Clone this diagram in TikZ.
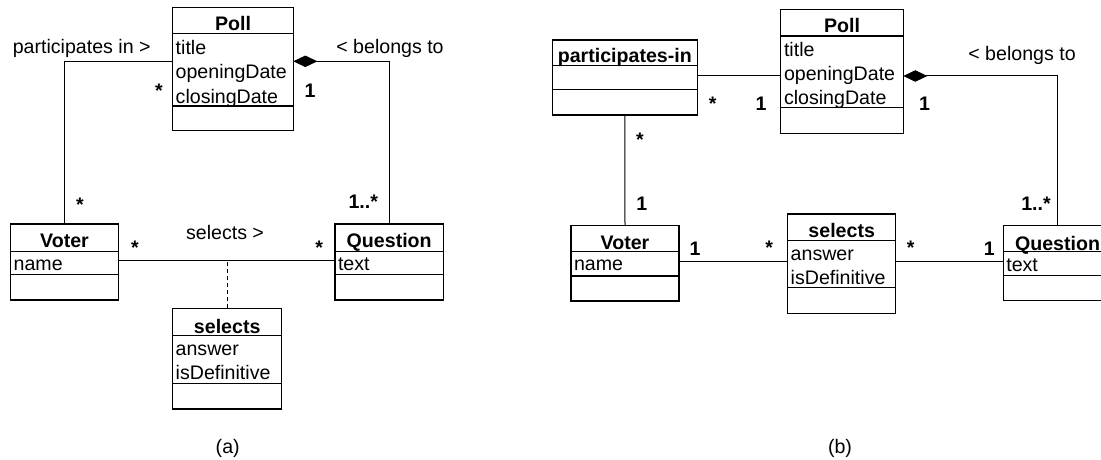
\documentclass[tikz,border=0pt]{standalone}
\usepackage{fontspec}
\setmainfont{Liberation Sans}
\usetikzlibrary{arrows.meta}
\newcommand{\umlclass}[7]{% name, left, top, right, bottom, sep1, sep2
  \node[classbox, minimum width={(#4-#2)*1pt}, minimum height={(#5-#3)*1pt}] (#1) at ({(#2+#4)/2},{(#3+#5)/2}) {};
  \draw[sepline] (#2,#6) -- (#4,#6);
  \draw[sepline] (#2,#7) -- (#4,#7);
}
\begin{document}
\begin{tikzpicture}[x=1pt,y=-1pt,
  every node/.style={font=\fontsize{19.6}{23}\selectfont, inner sep=0pt, outer sep=0pt},
  classbox/.style={draw, line width=1.1pt, rectangle, inner sep=0pt, outer sep=0pt},
  hdr/.style={anchor=base, font=\fontsize{19.6}{23}\selectfont\bfseries},
  attr/.style={anchor=base west},
  mult/.style={anchor=base, font=\fontsize{19.6}{23}\selectfont\bfseries},
  lbl/.style={anchor=base},
  conn/.style={line width=1pt},
  sepline/.style={line width=1.1pt},
  comp/.style={{Diamond[length=24pt,width=11.5pt]}-},
  assocdash/.style={line width=1.4pt, dash pattern=on 4.5pt off 2.5pt},
]
\path[use as bounding box] (0,0) rectangle (1101,460);
\clip (0,0) rectangle (1101,460);

% ---------------- (a) ----------------
\umlclass{pollA}{172.7}{7.3}{293.3}{130.7}{33.3}{106}
\node[hdr] (pollA-h) at (233,31) {Poll};
\node[attr] (pollA-a1) at (175.7,54.5) {title};
\node[attr] (pollA-a2) at (175.7,78.8) {openingDate};
\node[attr] (pollA-a3) at (175.7,103) {closingDate};

\umlclass{voterA}{10.7}{224}{118.3}{300}{251.7}{274.3}
\node[hdr] (voterA-h) at (64.5,247.7) {Voter};
\node[attr] (voterA-a1) at (13.7,270) {name};

\umlclass{questionA}{335}{224}{443.3}{300}{251.7}{274.3}
\node[hdr] (questionA-h) at (389.2,247.7) {Question};
\node[attr] (questionA-a1) at (338,270) {text};

\umlclass{selA}{172.7}{308.3}{281.7}{409}{335.7}{383.3}
\node[hdr] (selA-h) at (227.2,333) {selects};
\node[attr] (selA-a1) at (175.7,355) {answer};
\node[attr] (selA-a2) at (175.7,379.5) {isDefinitive};

\draw[conn] ([yshift=7.7pt]pollA.west) -| (voterA.north);
\draw[conn, comp] ([yshift=7.7pt]pollA.east) -| (questionA.north);
\draw[conn] ([yshift=1.3pt]voterA.east) -- ([yshift=1.3pt]voterA.east -| questionA.west);
\coordinate (selJoin) at ([yshift=1.3pt]voterA.east -| selA.north);
\draw[assocdash] (selA.north) -- (selJoin);

\node[lbl] (partA) at (81.7,54) {participates in >};
\node[lbl] (belA) at (390,54) {< belongs to};
\node[lbl] (selLbl) at (225,239.7) {selects >};
\node[mult] (mA1) at (159,97.3) {*};
\node[mult] (mA2) at (80,211.3) {*};
\node[mult] (mA3) at (310,97) {1};
\node[mult] (mA4) at (363.3,208.7) {1..*};
\node[mult] (mA5) at (135,254.6) {*};
\node[mult] (mA6) at (319.3,254.6) {*};
\node[lbl] (capA) at (227.7,453) {(a)};

% ---------------- (b) ----------------
\umlclass{piB}{552.3}{40}{697.3}{115}{65.7}{89.3}
\node[hdr] (piB-h) at (624.8,63) {participates-in};

\umlclass{pollB}{780.7}{9.3}{903.3}{133.3}{36}{107.7}
\node[hdr] (pollB-h) at (842,33) {Poll};
\node[attr] (pollB-a1) at (784,57) {title};
\node[attr] (pollB-a2) at (784,80.5) {openingDate};
\node[attr] (pollB-a3) at (784,105) {closingDate};

\umlclass{voterB}{571}{225.7}{679}{301}{251.7}{276}
\node[hdr] (voterB-h) at (625,249.7) {Voter};
\node[attr] (voterB-a1) at (574,270.7) {name};

\umlclass{selB}{787.7}{214}{895.7}{313.3}{240.7}{287.7}
\node[hdr] (selB-h) at (841.7,237.7) {selects};
\node[attr] (selB-a1) at (790.7,260) {answer};
\node[attr] (selB-a2) at (790.7,284) {isDefinitive};

\umlclass{questionB}{1003.3}{225.7}{1111.6}{300.7}{251.3}{275.8}
\node[hdr] (questionB-h) at (1057.5,250) {Question};
\node[attr] (questionB-a1) at (1006.3,271) {text};

\draw[conn] ([yshift=1.5pt]piB.east) -- ([yshift=1.5pt]piB.east -| pollB.west);
\draw[conn, comp] ([yshift=-4.7pt]pollB.east) -| (questionB.north);
\draw[conn] (piB.south) -- (voterB.north);
\draw[conn] ([yshift=2pt]voterB.east) -- ([yshift=2pt]voterB.east -| selB.west);
\draw[conn] ([yshift=2pt]voterB.east -| selB.east) -- ([yshift=2pt]voterB.east -| questionB.west);

\node[lbl] (belB) at (1022,61) {< belongs to};
\node[mult] (mB1) at (712.7,110.6) {*};
\node[mult] (mB2) at (761,110.3) {1};
\node[mult] (mB3) at (924.6,110.3) {1};
\node[mult] (mB4) at (640,146.3) {*};
\node[mult] (mB5) at (641.7,210.3) {1};
\node[mult] (mB6) at (1036,210.8) {1..*};
\node[mult] (mB7) at (695,255.3) {1};
\node[mult] (mB8) at (769.3,254.6) {*};
\node[mult] (mB9) at (910.7,254.6) {*};
\node[mult] (mB10) at (989.3,255.3) {1};
\node[lbl] (capB) at (840,453) {(b)};
\end{tikzpicture}
\end{document}
